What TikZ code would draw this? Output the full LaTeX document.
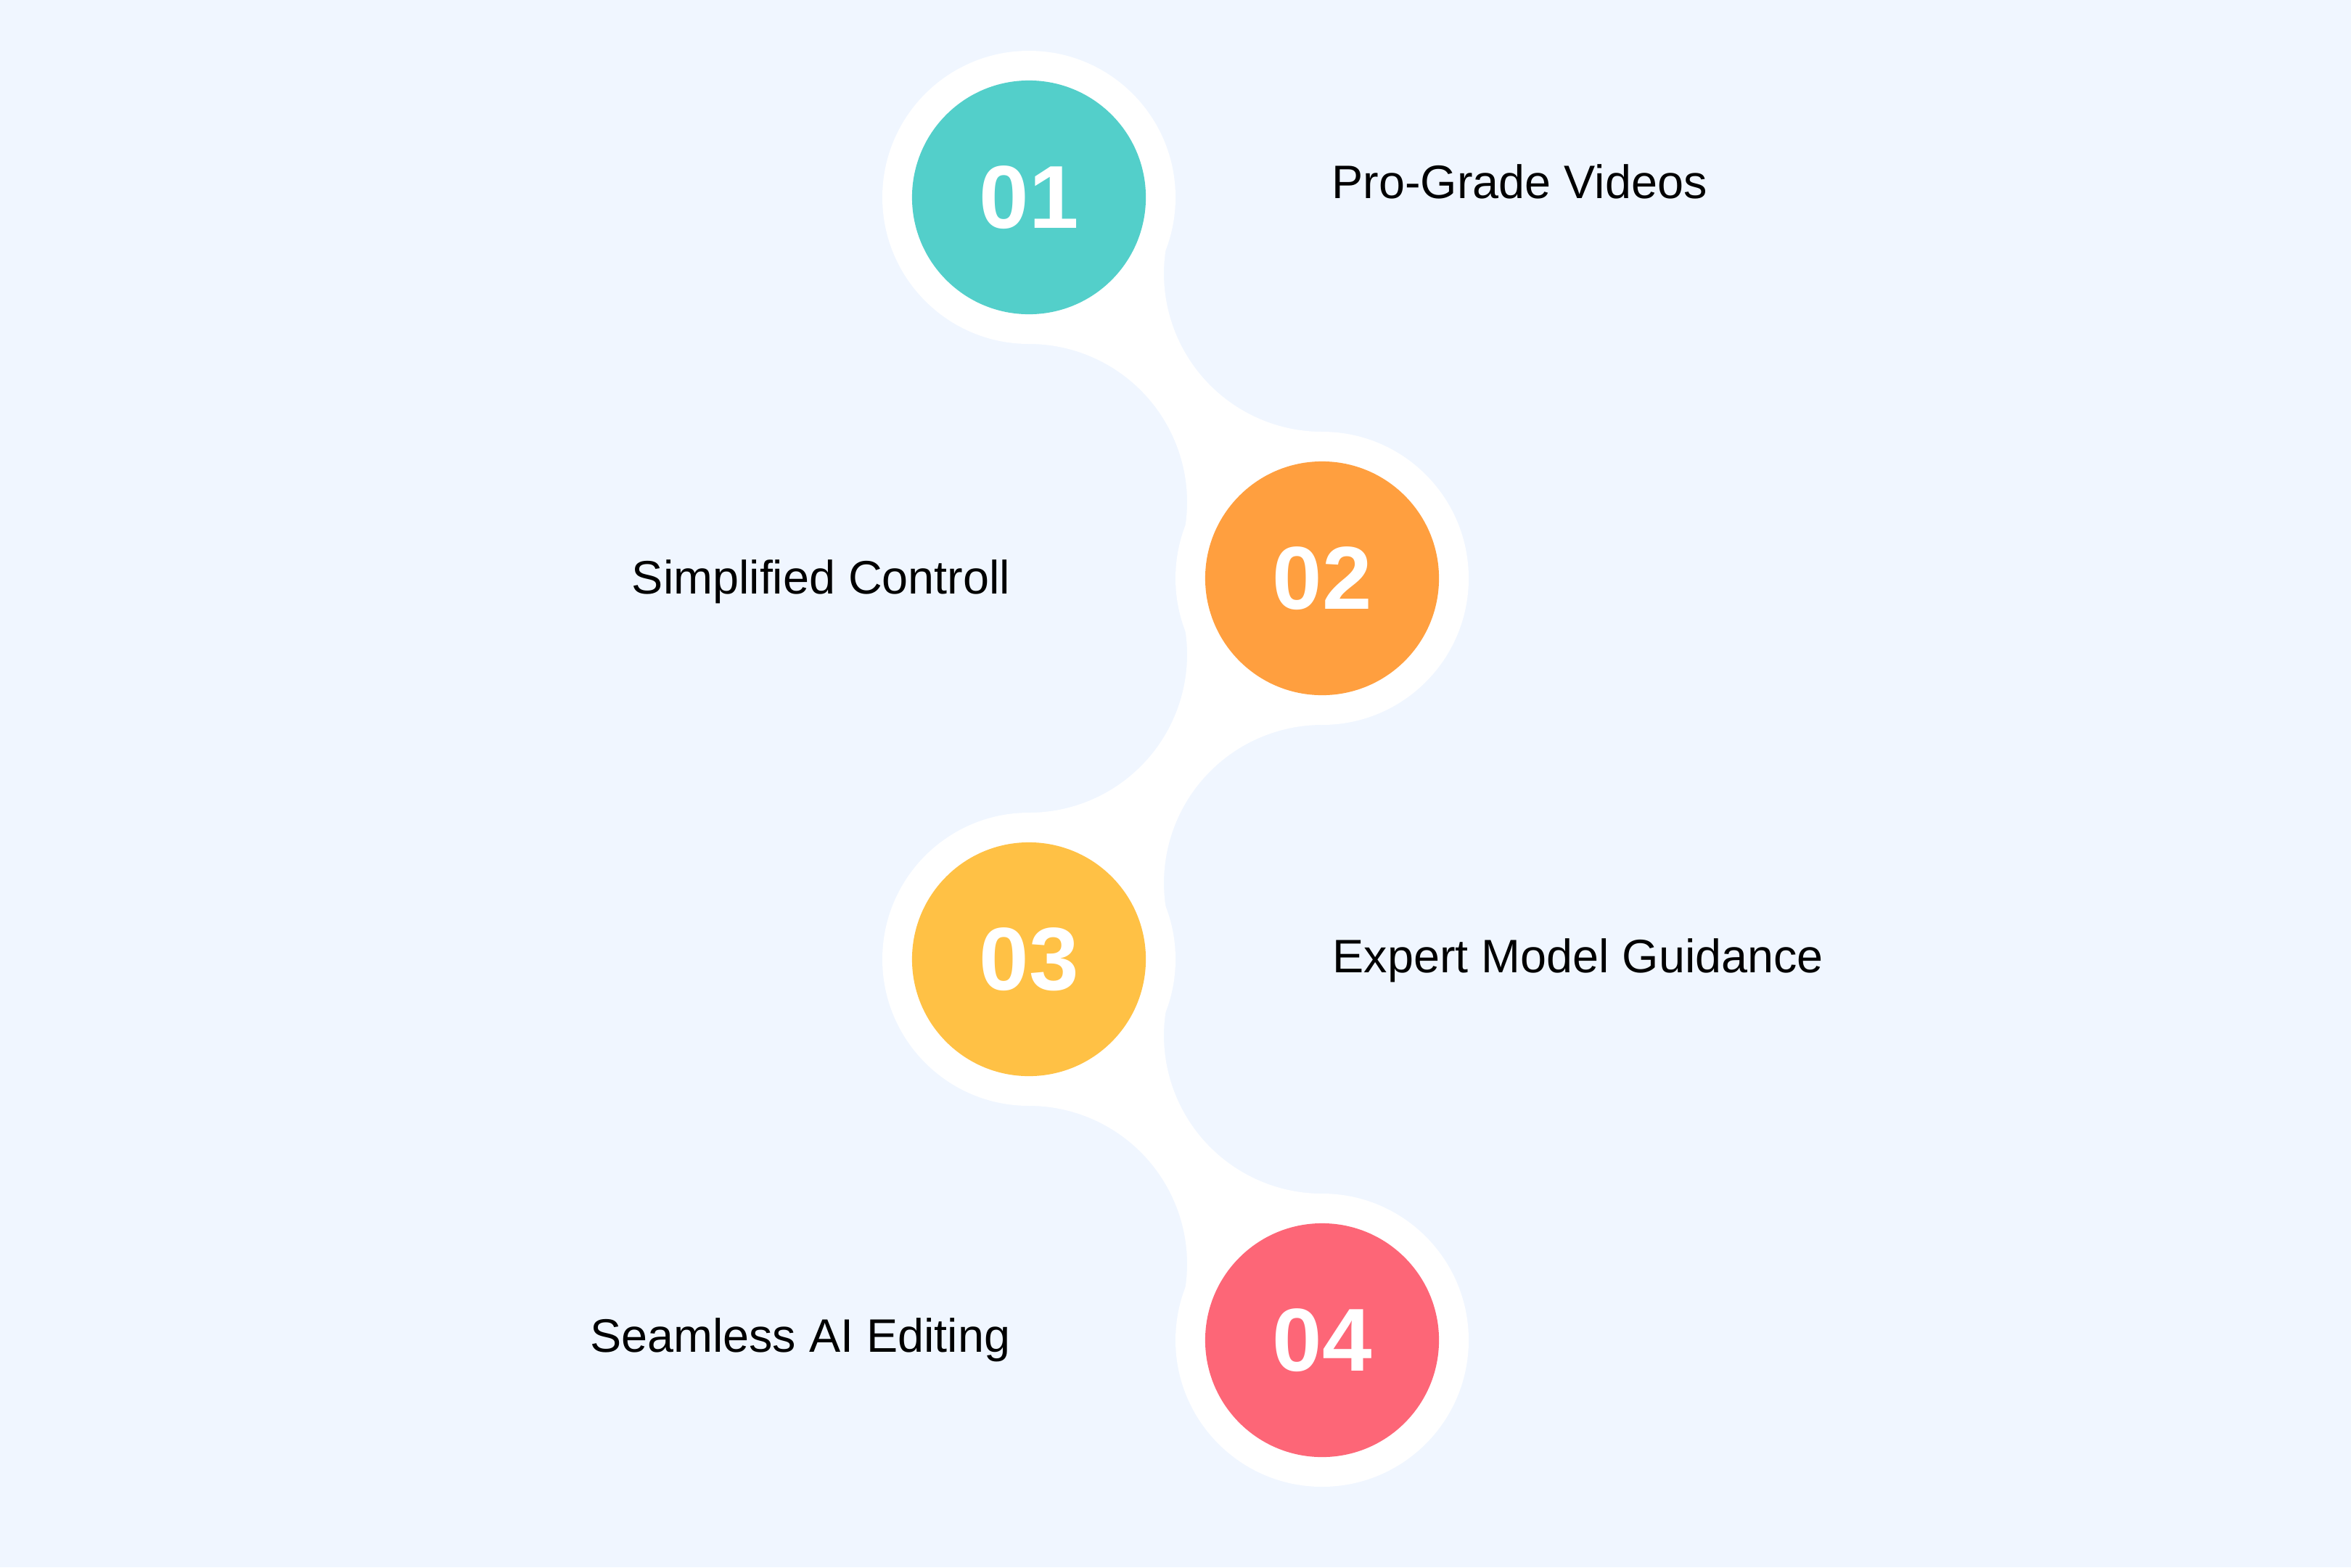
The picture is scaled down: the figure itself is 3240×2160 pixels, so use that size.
\documentclass[tikz,border=0pt]{standalone}
\usepackage{fontspec}
\setmainfont{Liberation Sans}
\usepackage{tikz}
\usetikzlibrary{calc, positioning}
\definecolor{bgblue}{HTML}{F0F6FF}
\definecolor{stepteal}{HTML}{53CFCA}
\definecolor{steporange}{HTML}{FF9F3F}
\definecolor{stepyellow}{HTML}{FFC145}
\definecolor{stepred}{HTML}{FD6677}
\tikzset{>=stealth}

\begin{document}
\begin{tikzpicture}[x=0.01cm, y=0.01cm,
    disc/.style={circle, minimum size=3.22cm, inner sep=0pt, text=white,
                 font=\fontsize{35}{42}\selectfont\bfseries},
    lbl/.style={inner sep=0pt, text=black, font=\fontsize{18.4}{22}\selectfont}]

			\fill[bgblue] (0,0) rectangle (3240,-2160);
			\useasboundingbox (0,0) rectangle (3240,-2160);

			\coordinate (c1) at (1418,-272);
			\coordinate (c2) at (1822,-797);
			\coordinate (c3) at (1418,-1322);
			\coordinate (c4) at (1822,-1847);

			% white bands between the steps
			\fill[white] ($(c1)+(0,-202)$) arc[start angle=90, end angle=-15, radius=218] -- (c2)
				-- ($(c2)+(0,202)$) arc[start angle=270, end angle=165, radius=218] -- (c1) -- cycle;
			\fill[white] ($(c2)+(0,-202)$) arc[start angle=90, end angle=195, radius=218] -- (c3)
				-- ($(c3)+(0,202)$) arc[start angle=270, end angle=375, radius=218] -- (c2) -- cycle;
			\fill[white] ($(c3)+(0,-202)$) arc[start angle=90, end angle=-15, radius=218] -- (c4)
				-- ($(c4)+(0,202)$) arc[start angle=270, end angle=165, radius=218] -- (c3) -- cycle;

			\foreach \c in {c1,c2,c3,c4}
				\fill[white] (\c) circle[radius=202];

			\node[disc, fill=stepteal] (n1) at (c1) {01};
			\node[disc, fill=steporange] (n2) at (c2) {02};
			\node[disc, fill=stepyellow] (n3) at (c3) {03};
			\node[disc, fill=stepred] (n4) at (c4) {04};

			\node[lbl, anchor=base west] (t1) at (1835,-273) {Pro-Grade Videos};
			\node[lbl, anchor=base east] (t2) at (1393,-818) {Simplified Controll};
			\node[lbl, anchor=base west] (t3) at (1836,-1340) {Expert Model Guidance};
			\node[lbl, anchor=base east] (t4) at (1393,-1863) {Seamless AI Editing};

\end{tikzpicture}
\end{document}
